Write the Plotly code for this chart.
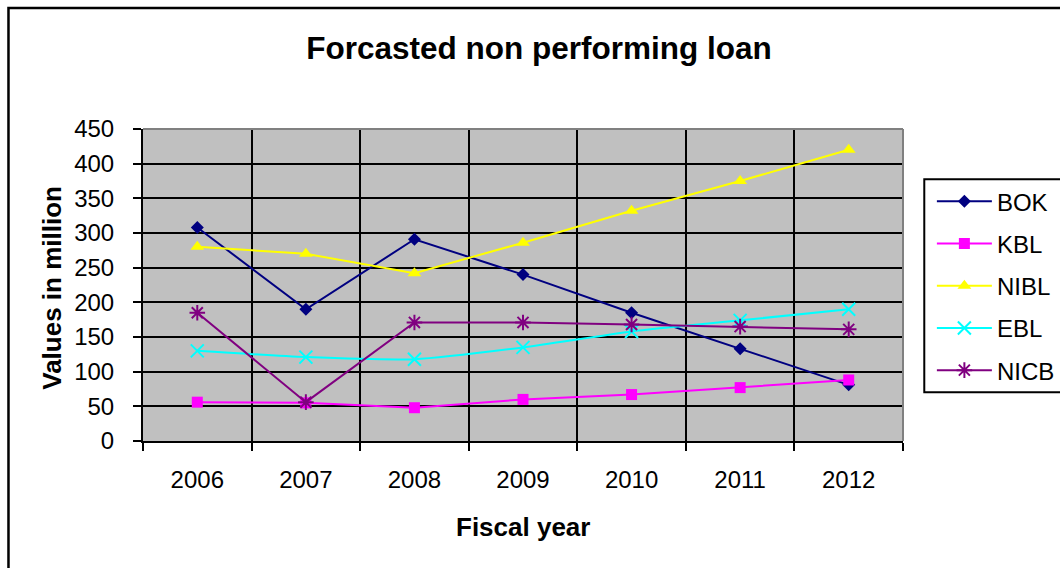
import plotly.graph_objects as go

# Fiscal years and forecasted non performing loan (values in million)
years = ["2006", "2007", "2008", "2009", "2010", "2011", "2012"]
bok = [308, 190, 291, 240, 185, 133, 81]
kbl = [56, 55, 48, 60, 67, 77, 88]
nibl = [280, 270, 242, 286, 332, 375, 420]
ebl = [130, 121, 118, 135, 158, 174, 190]
nicb = [185, 56, 171, 171, 168, 165, 161]

y_ticks = [0, 50, 100, 150, 200, 250, 300, 350, 400, 450]

FONT = "Liberation Sans, Arial, sans-serif"

fig = go.Figure()

# light frames behind the EBL / NICB markers
for vals in (ebl, nicb):
    fig.add_trace(go.Scatter(
        x=years, y=vals, mode="markers", showlegend=False, hoverinfo="skip",
        marker=dict(symbol="square-open", size=18, color="rgba(0,0,0,0)",
                    line=dict(color="rgba(245,245,245,0.9)", width=1.5)),
    ))

fig.add_trace(go.Scatter(
    x=years, y=bok, name="BOK", mode="lines+markers", legendgroup="bok",
    line=dict(color="#000080", width=2),
    marker=dict(symbol="diamond", size=10, color="#000080"),
))
fig.add_trace(go.Scatter(
    x=years, y=kbl, name="KBL", mode="lines+markers", legendgroup="kbl",
    line=dict(color="#FF00FF", width=2),
    marker=dict(symbol="square", size=11, color="#FF00FF"),
))
fig.add_trace(go.Scatter(
    x=years, y=nibl, name="NIBL", mode="lines+markers", legendgroup="nibl",
    line=dict(color="#FFFF00", width=2),
    marker=dict(symbol="triangle-up", size=12, color="#FFFF00"),
))
fig.add_trace(go.Scatter(
    x=years, y=ebl, name="EBL", mode="lines+markers", legendgroup="ebl",
    line=dict(color="#00FFFF", width=2, shape="spline", smoothing=0.6),
    marker=dict(symbol="x-thin", size=13, color="#00FFFF",
                line=dict(color="#00FFFF", width=2)),
))
fig.add_trace(go.Scatter(
    x=years, y=nicb, name="NICB", mode="lines+markers", legendgroup="nicb",
    line=dict(color="#800080", width=2),
    marker=dict(symbol="asterisk", size=13, color="#800080",
                line=dict(color="#800080", width=2)),
))

fig.update_layout(
    width=1060, height=568,
    margin=dict(l=143, r=157, t=129, b=127, autoexpand=False),
    paper_bgcolor="white",
    plot_bgcolor="#C0C0C0",
    font=dict(family=FONT, size=24, color="black"),
    title=dict(text="<b>Forcasted non performing loan</b>",
               font=dict(family=FONT, size=31.5, color="black"),
               xref="container", x=0.5085, xanchor="center",
               yref="container", y=1 - 48 / 568, yanchor="middle"),
    showlegend=True,
    legend=dict(x=1.038, xanchor="left", y=0.839, yanchor="top",
                bgcolor="rgba(0,0,0,0)", borderwidth=0,
                font=dict(family=FONT, size=24, color="black"),
                traceorder="grouped", tracegroupgap=8, itemwidth=55),
    xaxis=dict(type="category", categoryorder="array", categoryarray=years,
               range=[-0.5, 6.5], tickson="boundaries",
               showgrid=True, gridcolor="black", gridwidth=1.5,
               ticks="outside", ticklen=8, tickcolor="black", tickwidth=1.5,
               showline=True, linecolor="black", linewidth=2,
               tickfont=dict(family=FONT, size=24, color="black"),
               ticklabelstandoff=16),
    yaxis=dict(range=[0, 450], tickvals=y_ticks,
               showgrid=True, gridcolor="black", gridwidth=1.5,
               zeroline=False,
               ticks="outside", ticklen=8, tickcolor="black", tickwidth=1.5,
               showline=True, linecolor="black", linewidth=2,
               tickfont=dict(family=FONT, size=24, color="black"),
               ticklabelstandoff=14),
    annotations=[
        dict(text="<b>Values in million</b>", textangle=-90,
             xref="paper", yref="paper", x=-0.1198, y=0.491,
             xanchor="center", yanchor="middle", showarrow=False,
             font=dict(family=FONT, size=26, color="black")),
        dict(text="<b>Fiscal year</b>",
             xref="paper", yref="paper", x=0.4995, y=-0.2766,
             xanchor="center", yanchor="middle", showarrow=False,
             font=dict(family=FONT, size=26, color="black")),
    ],
    shapes=[
        # gray plot-area border on top and right
        dict(type="line", xref="paper", yref="paper", x0=0, x1=1, y0=1, y1=1,
             line=dict(color="#808080", width=2), layer="above"),
        dict(type="line", xref="paper", yref="paper", x0=1, x1=1, y0=0, y1=1,
             line=dict(color="#808080", width=2), layer="above"),
        # chart frame
        dict(type="rect", xref="paper", yref="paper",
             x0=-0.177, x1=1.25, y0=-0.6, y1=1.388,
             line=dict(color="black", width=2.5), layer="below"),
        # legend box, running past the right edge
        dict(type="rect", xref="paper", yref="paper",
             x0=1.028, x1=1.3, y0=0.156, y1=0.839,
             fillcolor="white", line=dict(color="black", width=2),
             layer="above"),
    ],
)

fig.write_html("out.html")
